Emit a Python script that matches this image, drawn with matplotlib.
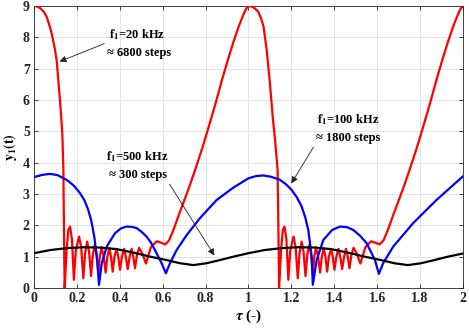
import matplotlib
matplotlib.use("Agg")
import matplotlib.pyplot as plt
import numpy as np

# ---- data ----
red_x = [0.0, 0.015, 0.028, 0.045, 0.059, 0.07, 0.082, 0.098, 0.106, 0.121, 0.132, 0.137, 0.141, 0.143,
         0.152, 0.160, 0.168, 0.177, 0.186, 0.195, 0.210, 0.220, 0.230, 0.238, 0.248,
         0.257, 0.266, 0.274, 0.283, 0.292, 0.300, 0.307, 0.315, 0.325, 0.334, 0.342,
         0.351, 0.359, 0.367, 0.375, 0.385, 0.393, 0.401, 0.410, 0.420, 0.428, 0.437,
         0.446, 0.455, 0.463, 0.471, 0.480, 0.490, 0.505, 0.522, 0.545, 0.572, 0.590,
         0.612, 0.630, 0.650, 0.680, 0.720, 0.753, 0.785, 0.815, 0.847, 0.877, 0.905, 0.93,
         0.955, 0.975, 0.99,
         1.0, 1.015, 1.028, 1.045, 1.059, 1.070, 1.085, 1.100, 1.113, 1.124, 1.136, 1.141, 1.143,
         1.152, 1.160, 1.168, 1.177, 1.186, 1.195, 1.210, 1.220, 1.230, 1.238, 1.248,
         1.257, 1.266, 1.274, 1.283, 1.292, 1.300, 1.307, 1.315, 1.325, 1.334, 1.342,
         1.351, 1.359, 1.367, 1.375, 1.385, 1.393, 1.401, 1.410, 1.420, 1.428, 1.437,
         1.446, 1.455, 1.463, 1.471, 1.480, 1.490, 1.505, 1.522, 1.545, 1.572, 1.590,
         1.612, 1.630, 1.650, 1.680, 1.720, 1.753, 1.785, 1.815, 1.847, 1.877, 1.905, 1.93,
         1.955, 1.975, 1.99, 2.0]
red_y = [9.0, 8.98, 8.93, 8.82, 8.65, 8.42, 8.14, 7.6, 7.23, 6.0, 4.94, 3.77, 1.0, 0.0,
         1.2, 1.85, 1.96, 1.55, 0.26, 1.2, 1.64, 1.3, 0.31, 1.1, 1.48,
         1.15, 0.38, 1.05, 1.37, 1.05, 0.45, 1.0, 1.30, 1.0, 0.49, 1.0,
         1.27, 1.0, 0.52, 1.0, 1.25, 1.0, 0.58, 1.0, 1.25, 1.0, 0.60,
         1.0, 1.25, 1.0, 0.63, 1.05, 1.28, 1.1, 0.78, 1.3, 1.49, 1.45,
         1.39, 1.52, 1.85, 2.42, 3.15, 3.8, 4.47, 5.15, 5.9, 6.65, 7.3, 7.85,
         8.35, 8.7, 8.92,
         9.0, 8.98, 8.93, 8.82, 8.6, 8.35, 7.6, 6.54, 5.47, 4.73, 3.77, 1.0, 0.0,
         1.2, 1.85, 1.96, 1.55, 0.26, 1.2, 1.64, 1.3, 0.31, 1.1, 1.48,
         1.15, 0.38, 1.05, 1.37, 1.05, 0.45, 1.0, 1.30, 1.0, 0.49, 1.0,
         1.27, 1.0, 0.52, 1.0, 1.25, 1.0, 0.58, 1.0, 1.25, 1.0, 0.60,
         1.0, 1.25, 1.0, 0.63, 1.05, 1.28, 1.1, 0.78, 1.3, 1.49, 1.45,
         1.39, 1.52, 1.85, 2.42, 3.15, 3.8, 4.47, 5.15, 5.9, 6.65, 7.3, 7.85,
         8.35, 8.7, 8.92, 8.98]

blue_x = [0.0, 0.04, 0.075, 0.11, 0.152, 0.185, 0.214, 0.235, 0.253, 0.268, 0.281, 0.295, 0.303,
          0.316, 0.339, 0.378, 0.405, 0.432, 0.455, 0.479, 0.50, 0.525, 0.545, 0.564, 0.595, 0.615,
          0.634, 0.665, 0.712, 0.774, 0.852, 0.929, 1.0, 1.035, 1.069, 1.105, 1.147,
          1.175, 1.201, 1.225, 1.248, 1.265, 1.279, 1.295, 1.300, 1.318, 1.349, 1.39, 1.427, 1.46, 1.489,
          1.52, 1.551, 1.590, 1.608, 1.628, 1.675, 1.768, 1.877, 2.0]
blue_y = [3.54, 3.61, 3.64, 3.6, 3.45, 3.27, 3.03, 2.8, 2.49, 2.12, 1.64, 0.89, 0.1,
          0.79, 1.32, 1.75, 1.9, 1.96, 1.95, 1.91, 1.8, 1.64, 1.45, 1.21, 0.79, 0.47,
          0.79, 1.21, 1.69, 2.23, 2.81, 3.2, 3.5, 3.57, 3.59, 3.55, 3.45,
          3.31, 3.13, 2.9, 2.60, 2.25, 1.85, 1.0, 0.1, 0.89, 1.53, 1.85, 1.96, 1.94, 1.85,
          1.67, 1.43, 0.89, 0.45, 0.79, 1.32, 2.07, 2.81, 3.56]

black_x = [0.0, 0.075, 0.152, 0.23, 0.308, 0.385, 0.463, 0.541, 0.619, 0.68, 0.743,
           0.805, 0.867, 0.93, 1.0, 1.075, 1.152, 1.23, 1.308, 1.385, 1.463, 1.541,
           1.619, 1.68, 1.743, 1.805, 1.867, 1.93, 2.0]
black_y = [1.11, 1.21, 1.27, 1.30, 1.29, 1.24, 1.13, 1.0, 0.89, 0.79, 0.73,
           0.79, 0.89, 1.0, 1.11, 1.21, 1.27, 1.30, 1.29, 1.24, 1.13, 1.0,
           0.89, 0.79, 0.73, 0.79, 0.89, 1.0, 1.1]

x_ticks = [0, 0.2, 0.4, 0.6, 0.8, 1, 1.2, 1.4, 1.6, 1.8, 2]
x_tick_labels = ["0", "0.2", "0.4", "0.6", "0.8", "1", "1.2", "1.4", "1.6", "1.8", "2"]
y_ticks = [0, 1, 2, 3, 4, 5, 6, 7, 8, 9]

plt.rcParams['font.family'] = ['Liberation Serif', 'DejaVu Serif']
plt.rcParams['font.weight'] = 'bold'
plt.rcParams['mathtext.fontset'] = 'stix'

fig = plt.figure(figsize=(4.69, 3.28), dpi=100)
ax = fig.add_axes([0.0725, 0.122, 0.9145, 0.86])

ax.plot(red_x, red_y, color='#ff0000', lw=1.6, zorder=3)
ax.plot(blue_x, blue_y, color='#0000ff', lw=1.6, zorder=3)
ax.plot(black_x, black_y, color='#000000', lw=1.6, zorder=3)

ax.set_xlim(0, 2)
ax.set_ylim(0, 9)
ax.set_xticks(x_ticks)
ax.set_xticklabels(x_tick_labels)
ax.set_yticks(y_ticks)
ax.grid(True, color='#e3e3e3', lw=0.7)
ax.set_axisbelow(True)
ax.tick_params(direction='in', top=True, right=True, length=3, width=0.6,
               labelsize=10, pad=3, colors='#262626')
for lab in ax.get_xticklabels() + ax.get_yticklabels():
    lab.set_fontweight('bold')
for s in ax.spines.values():
    s.set_color('#262626')
    s.set_linewidth(0.6)

ax.set_xlabel(r'$\tau$ (-)', fontsize=11, fontweight='bold', labelpad=2)
ax.set_ylabel(r'$\mathbf{y_1(t)}$', fontsize=10)
ax.yaxis.set_label_coords(-0.036, 0.5)

fs = 9
ax.text(0.48, 8.08, r'$\mathbf{f_1}$=20 kHz', ha='center', va='center', fontsize=fs, fontweight='bold')
ax.text(0.49, 7.51, '≈ 6800 steps', ha='center', va='center', fontsize=fs, fontweight='bold')
ax.annotate('', xy=(0.107, 7.19), xytext=(0.34, 7.83),
            arrowprops=dict(arrowstyle='-|>', color='#222222', lw=0.6, mutation_scale=10))

ax.text(1.464, 5.37, r'$\mathbf{f_1}$=100 kHz', ha='center', va='center', fontsize=fs, fontweight='bold')
ax.text(1.464, 4.79, '≈ 1800 steps', ha='center', va='center', fontsize=fs, fontweight='bold')
ax.annotate('', xy=(1.193, 3.26), xytext=(1.31, 4.57),
            arrowprops=dict(arrowstyle='-|>', color='#222222', lw=0.6, mutation_scale=10))

ax.text(0.48, 4.19, r'$\mathbf{f_1}$=500 kHz', ha='center', va='center', fontsize=fs, fontweight='bold')
ax.text(0.485, 3.61, '≈ 300 steps', ha='center', va='center', fontsize=fs, fontweight='bold')
ax.annotate('', xy=(0.848, 0.96), xytext=(0.625, 3.39),
            arrowprops=dict(arrowstyle='-|>', color='#222222', lw=0.6, mutation_scale=10))

fig.savefig('out.png', dpi=100)
